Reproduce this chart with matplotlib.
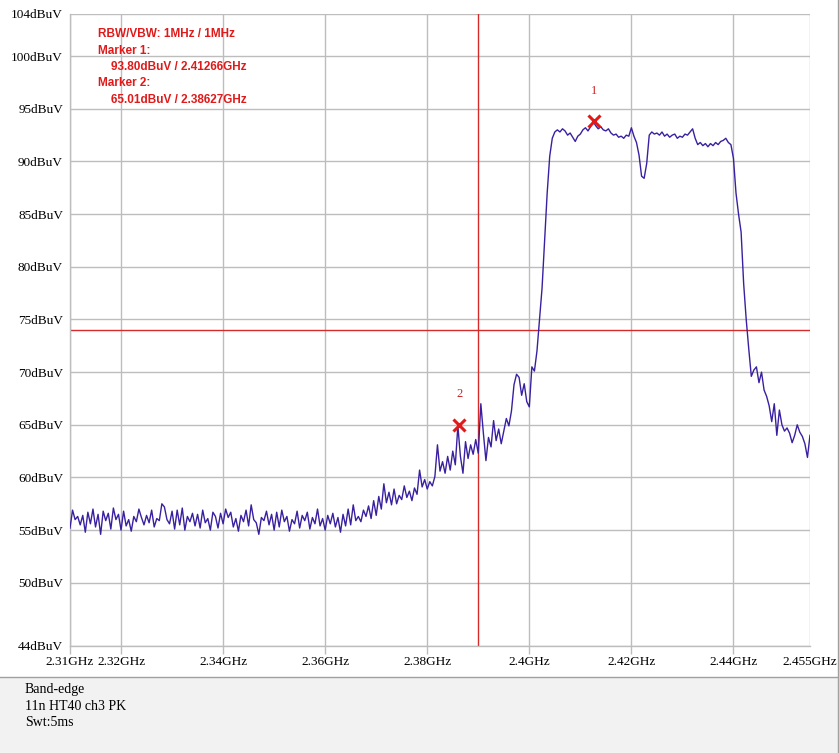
import matplotlib
matplotlib.use('Agg')
import matplotlib.pyplot as plt
import numpy as np
from matplotlib.patches import Rectangle
from matplotlib.lines import Line2D

# sweep 2.310 - 2.455 GHz, one point every 0.5 MHz (dBuV)
level = [
    55.2, 56.9, 56.0, 56.3, 55.5, 56.4, 54.8, 56.7, 55.6, 57.0,
    55.3, 56.5, 54.6, 56.8, 55.9, 56.6, 55.1, 57.1, 56.0, 56.5,
    55.0, 56.8, 55.4, 56.0, 54.9, 56.3, 55.8, 57.0, 56.2, 55.5,
    56.4, 55.7, 56.9, 55.3, 56.1, 55.9, 57.5, 57.2, 56.0, 55.6,
    56.8, 55.1, 56.9, 55.5, 57.1, 55.0, 56.3, 55.8, 56.6, 55.4,
    56.5, 55.2, 56.9, 55.7, 56.1, 55.0, 56.7, 56.3, 55.2, 56.6,
    55.6, 57.0, 56.2, 56.7, 55.3, 56.1, 54.9, 56.4, 55.8, 56.9,
    55.4, 57.4, 56.0, 55.7, 54.6, 56.2, 55.9, 56.8, 55.5, 56.5,
    55.0, 56.7, 55.3, 56.9, 55.8, 56.3, 54.9, 56.0, 55.6, 56.8,
    55.2, 56.4, 55.9, 56.7, 55.1, 56.2, 55.6, 57.0, 55.4, 56.1,
    55.0, 56.4, 55.6, 56.6, 55.3, 56.2, 54.8, 56.5, 55.4, 57.0,
    55.5, 57.4, 55.9, 56.3, 55.8, 56.9, 56.3, 57.3, 56.1, 57.8,
    56.4, 58.2, 57.0, 59.4, 57.6, 58.6, 57.4, 58.9, 57.5, 58.3,
    57.9, 59.2, 58.1, 58.7, 57.8, 59.0, 58.4, 60.7, 59.1, 59.8,
    58.9, 59.6, 59.2, 60.1, 63.1, 60.6, 61.5, 60.4, 62.0, 60.7,
    62.5, 61.2, 64.9, 62.0, 60.4, 63.4, 61.8, 63.1, 62.2, 63.6,
    62.3, 67.0, 64.2, 61.6, 63.8, 62.9, 65.4, 63.5, 64.6, 63.2,
    64.4, 65.6, 64.9, 66.3, 68.8, 69.8, 69.5, 67.8, 68.9, 67.2,
    66.7, 70.5, 70.1, 72.0, 75.0, 78.0, 82.5, 87.0, 90.5, 92.2,
    92.8, 93.0, 92.8, 93.1, 92.9, 92.5, 92.7, 92.3, 91.9, 92.4,
    92.6, 93.0, 93.2, 92.9, 93.3, 93.8, 93.4, 93.1, 93.3, 93.0,
    92.9, 93.1, 92.7, 92.5, 92.6, 92.3, 92.4, 92.2, 92.5, 92.4,
    93.2, 92.4, 91.8, 90.6, 88.6, 88.4, 89.8, 92.5, 92.8, 92.6,
    92.7, 92.5, 92.8, 92.4, 92.6, 92.3, 92.5, 92.6, 92.2, 92.4,
    92.3, 92.6, 92.5, 92.8, 93.1, 92.2, 91.6, 91.8, 91.5, 91.7,
    91.4, 91.7, 91.5, 91.8, 91.6, 91.9, 92.0, 92.2, 91.8, 91.6,
    90.3, 87.0, 85.0, 83.3, 78.4, 75.0, 72.2, 69.6, 70.2, 70.5,
    69.0, 70.0, 68.3, 67.7, 66.8, 65.3, 67.0, 64.0, 66.4, 65.0,
    64.4, 64.7, 64.2, 63.3, 64.0, 65.0, 64.3, 63.9, 63.2, 61.9,
    64.0,
]
freq = np.linspace(2.310, 2.455, len(level))

marker_f = [2.41266, 2.38627]
marker_v = [93.80, 65.01]
marker_names = ['1', '2']

limit_level = 74
band_edge = 2.39

xticks = [2.31, 2.32, 2.34, 2.36, 2.38, 2.40, 2.42, 2.44, 2.455]
xlabels = ['2.31GHz', '2.32GHz', '2.34GHz', '2.36GHz', '2.38GHz',
           '2.4GHz', '2.42GHz', '2.44GHz', '2.455GHz']
yticks = [44, 50, 55, 60, 65, 70, 75, 80, 85, 90, 95, 100, 104]
ylabels = ['%ddBuV' % v for v in yticks]

info_lines = ['RBW/VBW: 1MHz / 1MHz', 'Marker 1:', '    93.80dBuV / 2.41266GHz',
              'Marker 2:', '    65.01dBuV / 2.38627GHz']
note_lines = ['Band-edge', '11n HT40 ch3 PK', 'Swt:5ms']

W, H = 839, 753
serif = 'Liberation Serif'
grid_c = '#bdbdbd'
red = '#e01a1a'

fig = plt.figure(figsize=(W / 100, H / 100), dpi=100)
fig.patch.set_facecolor('white')

# grey footer
fig.patches.append(Rectangle((0, 0), 1, (H - 677) / H, transform=fig.transFigure,
                             facecolor='#f2f2f2', edgecolor='none', zorder=0))
fig.lines.append(Line2D([0, 1], [(H - 677) / H] * 2, transform=fig.transFigure,
                        color='#a0a0a0', lw=1))
fig.lines.append(Line2D([(W - 1.5) / W] * 2, [0, 1], transform=fig.transFigure,
                        color='#a0a0a0', lw=1))

ax = fig.add_axes([70 / W, (H - 646) / H, (810 - 70) / W, (646 - 14) / H])
ax.set_xlim(2.31, 2.455)
ax.set_ylim(44, 104)

ax.plot(freq, level, color='#3a20a0', lw=1, zorder=3)

ax.axhline(limit_level, color='#d42a2a', lw=1, zorder=2)
ax.axvline(band_edge, color='#d42a2a', lw=1, zorder=2)

ax.plot(marker_f, marker_v, linestyle='none', marker='x', color=red,
        markersize=9, mew=2.2, zorder=4)
for f, v, n in zip(marker_f, marker_v, marker_names):
    ax.annotate(n, (f, v), xytext=(0, 22), textcoords='offset points',
                ha='center', va='center', color='#cc2222', fontsize=9,
                family=serif)

ax.set_xticks(xticks)
ax.set_xticklabels(xlabels, fontsize=9.5, family=serif)
ax.set_yticks(yticks)
ax.set_yticklabels(ylabels, fontsize=9.5, family=serif)
ax.tick_params(axis='x', length=6, width=1, color=grid_c, pad=1)
ax.tick_params(axis='y', length=0, pad=5)
ax.xaxis.get_major_ticks()[-1].tick1line.set_visible(False)
ax.grid(True, color=grid_c, lw=1.0)
ax.set_axisbelow(True)
for s in ['right', 'top']:
    ax.spines[s].set_visible(False)
for s in ['left', 'bottom']:
    ax.spines[s].set_color(grid_c)
    ax.spines[s].set_linewidth(1.0)

for i, t in enumerate(info_lines):
    fig.text(98 / W, 1 - (34 + i * 16.5) / H, t, color=red, fontsize=8.5,
             fontweight='bold', family='Liberation Sans', va='center', ha='left')

for i, t in enumerate(note_lines):
    fig.text(25 / W, 1 - (690 + i * 16.5) / H, t, color='black', fontsize=10,
             family=serif, va='center', ha='left')

fig.savefig('out.png', dpi=100)
